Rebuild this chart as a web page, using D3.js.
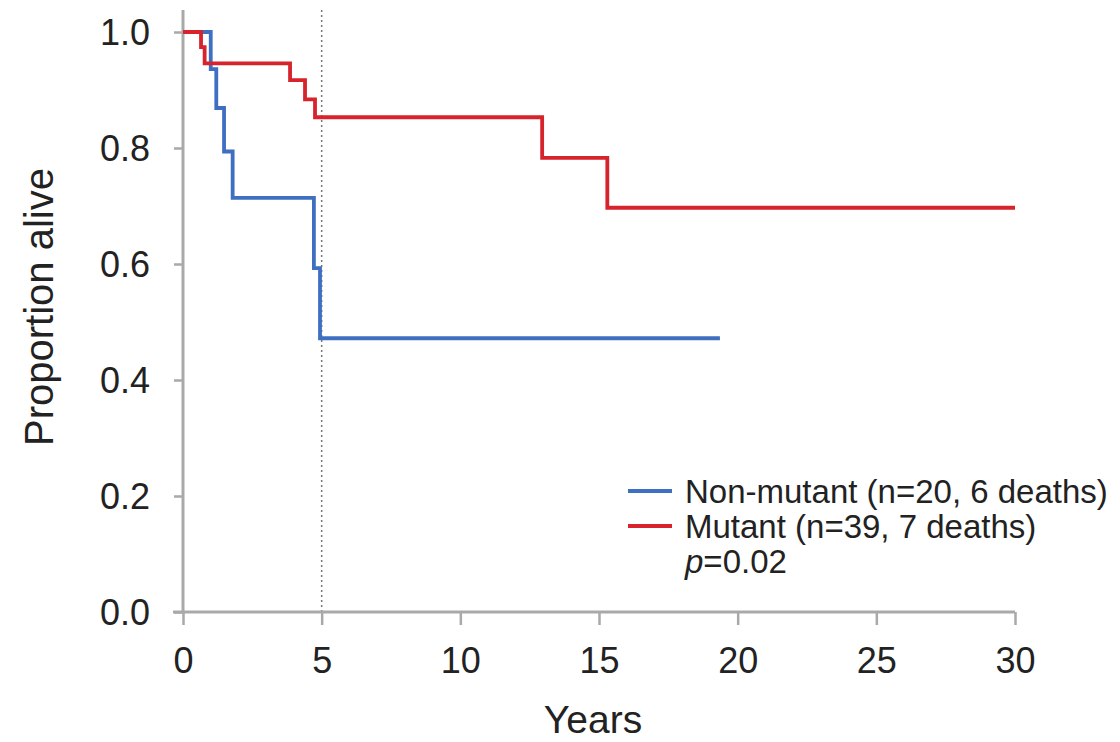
<!DOCTYPE html>
<html>
<head>
<meta charset="utf-8">
<script src="https://cdn.jsdelivr.net/npm/d3@7"></script>
<style>
  body { margin: 0; background: #fff; }
  text { font-family: "Liberation Sans", Arial, sans-serif; fill: #222; }
</style>
</head>
<body>
<script>
var width = 1120, height = 742;

// Kaplan-Meier steps: [years, proportion alive]
var nonMutantSteps = [[0, 1.0], [1.0, 0.936], [1.2, 0.869], [1.48, 0.794], [1.79, 0.714], [4.72, 0.593], [4.94, 0.472], [19.36, 0.472]];
var mutantSteps = [[0, 1.0], [0.65, 0.974], [0.78, 0.946], [3.86, 0.917], [4.4, 0.884], [4.76, 0.853], [12.95, 0.783], [15.3, 0.697], [30, 0.697]];
var xTicks = [0, 5, 10, 15, 20, 25, 30];
var yTicks = [0.0, 0.2, 0.4, 0.6, 0.8, 1.0];
var legendLabels = ["Non-mutant (n=20, 6 deaths)", "Mutant (n=39, 7 deaths)"];
var colors = ["#3f6fc0", "#d7232b"];

var svg = d3.select("body").append("svg")
   .attr("width", width)
   .attr("height", height);

var x = d3.scaleLinear().domain([0, 30]).range([183, 1015]);
var y = d3.scaleLinear().domain([0, 1]).range([612, 32]);

var axisColor = "#a9a9a9";

// dotted reference line at 5 years
svg.append("line")
   .attr("x1", x(5)).attr("x2", x(5))
   .attr("y1", 10).attr("y2", y(0))
   .attr("stroke", "#777")
   .attr("stroke-width", 1.5)
   .attr("stroke-dasharray", "2,3");

// y axis
var yAxis = svg.append("g")
   .attr("transform", "translate(" + x(0) + ",0)")
   .call(d3.axisLeft(y).tickValues(yTicks).tickFormat(d3.format(".1f")).tickSize(9).tickPadding(24));
yAxis.select(".domain").remove();
yAxis.selectAll(".tick line").attr("stroke", axisColor).attr("stroke-width", 2.5);
yAxis.selectAll("text").style("font-size", "36px").attr("dy", "0.36em").attr("fill", "#222");
svg.append("line")
   .attr("x1", x(0)).attr("x2", x(0))
   .attr("y1", 10).attr("y2", y(0) + 1)
   .attr("stroke", axisColor).attr("stroke-width", 3);

// x axis
var xAxis = svg.append("g")
   .attr("transform", "translate(0," + y(0) + ")")
   .call(d3.axisBottom(x).tickValues(xTicks).tickSize(13).tickPadding(22));
xAxis.select(".domain").remove();
xAxis.selectAll(".tick line").attr("stroke", axisColor).attr("stroke-width", 2.5);
xAxis.selectAll("text").style("font-size", "36px").attr("fill", "#222");
svg.append("line")
   .attr("x1", 173).attr("x2", x(30))
   .attr("y1", y(0)).attr("y2", y(0))
   .attr("stroke", axisColor).attr("stroke-width", 3);

// axis titles
svg.append("text")
   .attr("x", 593)
   .attr("y", 733)
   .attr("text-anchor", "middle")
   .style("font-size", "39px")
   .text("Years");
svg.append("text")
   .attr("transform", "translate(53,307) rotate(-90)")
   .attr("text-anchor", "middle")
   .style("font-size", "40px")
   .text("Proportion alive");

// survival curves
var line = d3.line()
   .x(function (d) { return x(d[0]); })
   .y(function (d) { return y(d[1]); })
   .curve(d3.curveStepAfter);

[nonMutantSteps, mutantSteps].forEach(function (s, i) {
   svg.append("path")
      .datum(s)
      .attr("d", line)
      .attr("fill", "none")
      .attr("stroke", colors[i])
      .attr("stroke-width", 3.8);
});

// legend
var legend = svg.append("g").attr("transform", "translate(628,491)");
legendLabels.forEach(function (lbl, i) {
   legend.append("line")
      .attr("x1", 0).attr("x2", 44)
      .attr("y1", i * 35).attr("y2", i * 35)
      .attr("stroke", colors[i]).attr("stroke-width", 3.8);
   legend.append("text")
      .attr("x", 57).attr("y", i * 35)
      .attr("dy", "0.36em")
      .style("font-size", "33px")
      .text(lbl);
});
var pText = legend.append("text")
   .attr("x", 57).attr("y", 70)
   .attr("dy", "0.36em")
   .style("font-size", "33px");
pText.append("tspan").style("font-style", "italic").text("p");
pText.append("tspan").text("=0.02");
</script>
</body>
</html>
